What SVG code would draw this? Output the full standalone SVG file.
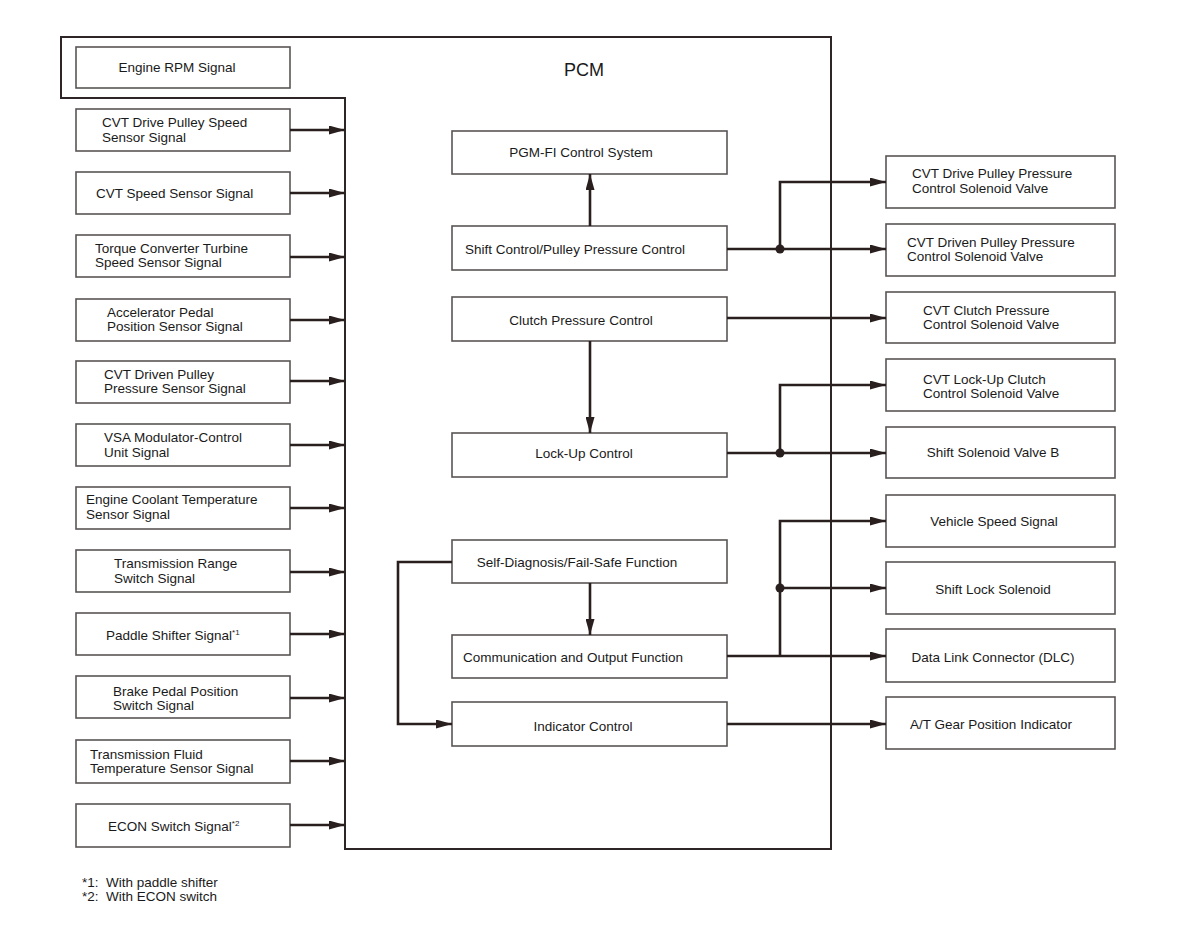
<svg xmlns="http://www.w3.org/2000/svg" width="1199" height="932" viewBox="0 0 1199 932">
<style>
.bg{fill:#ffffff}
.box{fill:#ffffff;stroke:#5a5555;stroke-width:1.6}
.pcm{fill:none;stroke:#2e2626;stroke-width:2}
.ln{fill:none;stroke:#2a1f1f;stroke-width:2.6}
.t{font-family:"Liberation Sans",Arial,sans-serif;font-size:13.5px;fill:#1a1a1a}
.tc{text-anchor:middle}
.sup{font-size:8px}
.pre{white-space:pre}
.title{font-family:"Liberation Sans",Arial,sans-serif;font-size:18px;fill:#1a1a1a;text-anchor:middle}
.dot{fill:#2a1f1f}
</style>
<defs>
<marker id="ah" markerUnits="userSpaceOnUse" markerWidth="16" markerHeight="9" refX="16" refY="4.5" orient="auto">
<path d="M0,0 L16,4.5 L0,9 z" fill="#2a1f1f"/>
</marker>
</defs>
<rect class="bg" x="0" y="0" width="1199" height="932"/>

<g id="pcm">
<path class="pcm" d="M61,37 H831 V849 H345 V98 H61 Z"/>
<text class="title" x="584" y="76">PCM</text>
</g>

<g id="engine-rpm"><rect class="box" x="76" y="47" width="214" height="41"/><text class="t tc" x="177" y="72">Engine RPM Signal</text></g>
<g id="cvt-drive-pulley-speed"><rect class="box" x="76" y="109" width="214" height="42"/><text class="t" x="102" y="127">CVT Drive Pulley Speed</text><text class="t" x="102" y="142">Sensor Signal</text></g>
<g id="cvt-speed-sensor"><rect class="box" x="76" y="172" width="214" height="42"/><text class="t" x="96" y="198">CVT Speed Sensor Signal</text></g>
<g id="torque-converter"><rect class="box" x="76" y="235" width="214" height="42"/><text class="t" x="95" y="253">Torque Converter Turbine</text><text class="t" x="95" y="267">Speed Sensor Signal</text></g>
<g id="accelerator-pedal"><rect class="box" x="76" y="299" width="214" height="42"/><text class="t" x="107" y="317">Accelerator Pedal</text><text class="t" x="107" y="331">Position Sensor Signal</text></g>
<g id="cvt-driven-pulley-pressure"><rect class="box" x="76" y="361" width="214" height="42"/><text class="t" x="104" y="379">CVT Driven Pulley</text><text class="t" x="104" y="393">Pressure Sensor Signal</text></g>
<g id="vsa-modulator"><rect class="box" x="76" y="424" width="214" height="42"/><text class="t" x="104" y="442">VSA Modulator-Control</text><text class="t" x="104" y="457">Unit Signal</text></g>
<g id="engine-coolant"><rect class="box" x="76" y="487" width="214" height="42"/><text class="t" x="86" y="504">Engine Coolant Temperature</text><text class="t" x="86" y="519">Sensor Signal</text></g>
<g id="transmission-range"><rect class="box" x="76" y="550" width="214" height="42"/><text class="t" x="114" y="568">Transmission Range</text><text class="t" x="114" y="583">Switch Signal</text></g>
<g id="paddle-shifter"><rect class="box" x="76" y="613" width="214" height="42"/><text class="t" x="106" y="640">Paddle Shifter Signal<tspan class="sup" dy="-5">*1</tspan></text></g>
<g id="brake-pedal"><rect class="box" x="76" y="676" width="214" height="42"/><text class="t" x="113" y="696">Brake Pedal Position</text><text class="t" x="113" y="710">Switch Signal</text></g>
<g id="transmission-fluid"><rect class="box" x="76" y="740" width="214" height="43"/><text class="t" x="90" y="759">Transmission Fluid</text><text class="t" x="90" y="773">Temperature Sensor Signal</text></g>
<g id="econ-switch"><rect class="box" x="76" y="804" width="214" height="43"/><text class="t" x="108" y="831">ECON Switch Signal<tspan class="sup" dy="-5">*2</tspan></text></g>

<g id="pgm-fi"><rect class="box" x="452" y="131" width="275" height="43"/><text class="t tc" x="581" y="157">PGM-FI Control System</text></g>
<g id="shift-control"><rect class="box" x="452" y="226" width="275" height="44"/><text class="t tc" x="575" y="254">Shift Control/Pulley Pressure Control</text></g>
<g id="clutch-pressure"><rect class="box" x="452" y="297" width="275" height="44"/><text class="t tc" x="581" y="325">Clutch Pressure Control</text></g>
<g id="lock-up"><rect class="box" x="452" y="433" width="275" height="44"/><text class="t tc" x="584" y="458">Lock-Up Control</text></g>
<g id="self-diagnosis"><rect class="box" x="452" y="540" width="275" height="43"/><text class="t tc" x="577" y="567">Self-Diagnosis/Fail-Safe Function</text></g>
<g id="communication"><rect class="box" x="452" y="635" width="275" height="43"/><text class="t tc" x="573" y="662">Communication and Output Function</text></g>
<g id="indicator-control"><rect class="box" x="452" y="702" width="275" height="44"/><text class="t tc" x="583" y="731">Indicator Control</text></g>

<g id="cvt-drive-pulley-valve"><rect class="box" x="886" y="156" width="229" height="52"/><text class="t" x="912" y="178">CVT Drive Pulley Pressure</text><text class="t" x="912" y="193">Control Solenoid Valve</text></g>
<g id="cvt-driven-pulley-valve"><rect class="box" x="886" y="224" width="229" height="52"/><text class="t" x="907" y="247">CVT Driven Pulley Pressure</text><text class="t" x="907" y="261">Control Solenoid Valve</text></g>
<g id="cvt-clutch-valve"><rect class="box" x="886" y="292" width="229" height="51"/><text class="t" x="923" y="315">CVT Clutch Pressure</text><text class="t" x="923" y="329">Control Solenoid Valve</text></g>
<g id="cvt-lockup-valve"><rect class="box" x="886" y="359" width="229" height="52"/><text class="t" x="923" y="384">CVT Lock-Up Clutch</text><text class="t" x="923" y="398">Control Solenoid Valve</text></g>
<g id="shift-solenoid-b"><rect class="box" x="886" y="427" width="229" height="51"/><text class="t tc" x="993" y="457">Shift Solenoid Valve B</text></g>
<g id="vehicle-speed"><rect class="box" x="886" y="495" width="229" height="52"/><text class="t tc" x="994" y="526">Vehicle Speed Signal</text></g>
<g id="shift-lock"><rect class="box" x="886" y="562" width="229" height="52"/><text class="t tc" x="993" y="594">Shift Lock Solenoid</text></g>
<g id="dlc"><rect class="box" x="886" y="629" width="229" height="53"/><text class="t tc" x="993" y="662">Data Link Connector (DLC)</text></g>
<g id="at-gear"><rect class="box" x="886" y="697" width="229" height="52"/><text class="t tc" x="991" y="729">A/T Gear Position Indicator</text></g>

<g id="footnotes">
<text class="t pre" x="82" y="887" xml:space="preserve">*1:  With paddle shifter</text>
<text class="t pre" x="82" y="901" xml:space="preserve">*2:  With ECON switch</text>
</g>

<g id="connectors">
<line class="ln" x1="290" y1="130" x2="345" y2="130" marker-end="url(#ah)"/>
<line class="ln" x1="290" y1="193" x2="345" y2="193" marker-end="url(#ah)"/>
<line class="ln" x1="290" y1="257" x2="345" y2="257" marker-end="url(#ah)"/>
<line class="ln" x1="290" y1="320" x2="345" y2="320" marker-end="url(#ah)"/>
<line class="ln" x1="290" y1="381" x2="345" y2="381" marker-end="url(#ah)"/>
<line class="ln" x1="290" y1="445" x2="345" y2="445" marker-end="url(#ah)"/>
<line class="ln" x1="290" y1="508" x2="345" y2="508" marker-end="url(#ah)"/>
<line class="ln" x1="290" y1="572" x2="345" y2="572" marker-end="url(#ah)"/>
<line class="ln" x1="290" y1="634" x2="345" y2="634" marker-end="url(#ah)"/>
<line class="ln" x1="290" y1="698" x2="345" y2="698" marker-end="url(#ah)"/>
<line class="ln" x1="290" y1="761" x2="345" y2="761" marker-end="url(#ah)"/>
<line class="ln" x1="290" y1="825" x2="345" y2="825" marker-end="url(#ah)"/>

<line class="ln" x1="590" y1="226" x2="590" y2="174" marker-end="url(#ah)"/>
<line class="ln" x1="590" y1="341" x2="590" y2="433" marker-end="url(#ah)"/>
<line class="ln" x1="590" y1="583" x2="590" y2="635" marker-end="url(#ah)"/>
<polyline class="ln" points="452,562 398,562 398,724 452,724" marker-end="url(#ah)"/>

<line class="ln" x1="727" y1="249" x2="886" y2="249" marker-end="url(#ah)"/>
<polyline class="ln" points="780,249 780,182 886,182" marker-end="url(#ah)"/>
<circle class="dot" cx="780" cy="249" r="4.5"/>
<line class="ln" x1="727" y1="318" x2="886" y2="318" marker-end="url(#ah)"/>
<line class="ln" x1="727" y1="453" x2="886" y2="453" marker-end="url(#ah)"/>
<polyline class="ln" points="780,453 780,385 886,385" marker-end="url(#ah)"/>
<circle class="dot" cx="780" cy="453" r="4.5"/>
<line class="ln" x1="727" y1="656" x2="886" y2="656" marker-end="url(#ah)"/>
<polyline class="ln" points="780,656 780,521 886,521" marker-end="url(#ah)"/>
<line class="ln" x1="780" y1="588" x2="886" y2="588" marker-end="url(#ah)"/>
<circle class="dot" cx="780" cy="588" r="4.5"/>
<line class="ln" x1="727" y1="724" x2="886" y2="724" marker-end="url(#ah)"/>
</g>
</svg>
